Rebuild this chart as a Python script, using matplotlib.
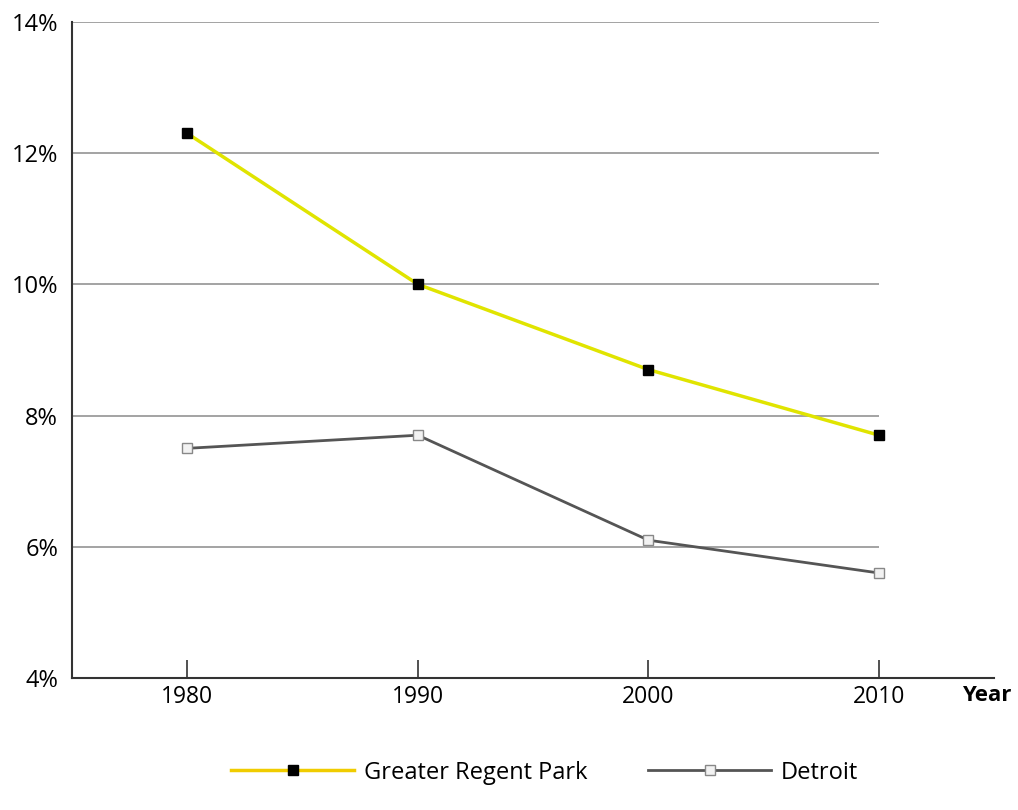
import matplotlib.pyplot as plt
from matplotlib.lines import Line2D

plt.rcParams['font.family'] = ['Open Sans', 'DejaVu Sans']

# data
years = [1980, 1990, 2000, 2010]
regent_park = [12.3, 10.0, 8.7, 7.7]
detroit = [7.5, 7.7, 6.1, 5.6]
y_ticks = [4, 6, 8, 10, 12, 14]
y_labels = ['4%', '6%', '8%', '10%', '12%', '14%']

fig = plt.figure(figsize=(10.18, 8.10), dpi=100)
ax = fig.add_axes([0.0707, 0.163, 0.906, 0.810])

# gridlines stop at the last year
ax.hlines(y_ticks[1:], 1975, 2010, colors='#8a8a8a', linewidth=1.1, zorder=1)

ax.plot(years, regent_park, color='#e0e400', linewidth=2.5, marker='s',
        markersize=7, markerfacecolor='black', markeredgecolor='black', zorder=3)
ax.plot(years, detroit, color='#555555', linewidth=2, marker='s',
        markersize=7, markerfacecolor='#f2f2f2', markeredgecolor='#888888', zorder=3)

ax.set_xlim(1975, 2015)
ax.set_ylim(4, 14)
ax.set_xticks(years)
ax.set_xticklabels([str(y) for y in years], fontsize=16.5)
ax.set_yticks(y_ticks)
ax.set_yticklabels(y_labels, fontsize=17)
ax.tick_params(axis='x', direction='in', length=13, width=1.2, color='#333333', pad=5)
ax.tick_params(axis='y', length=0, pad=10)

for s in ['top', 'right']:
    ax.spines[s].set_visible(False)
ax.spines['left'].set_color('#333333')
ax.spines['bottom'].set_color('#333333')
ax.spines['left'].set_linewidth(1.5)
ax.spines['bottom'].set_linewidth(1.5)

# axis title sits at the right end of the x axis, level with tick labels
ax.annotate('Year', xy=(1, 0), xycoords='axes fraction', xytext=(12, -5),
            textcoords='offset points', fontsize=16, fontweight='bold',
            ha='right', va='top')

handles = [
    Line2D([], [], color='#f0cc00', linewidth=2.5, marker='s', markersize=7,
           markerfacecolor='black', markeredgecolor='black'),
    Line2D([], [], color='#555555', linewidth=2, marker='s', markersize=7,
           markerfacecolor='#f2f2f2', markeredgecolor='#888888'),
]
fig.legend(handles, ['Greater Regent Park', 'Detroit'], loc='center',
           bbox_to_anchor=(0.535, 0.046), ncol=2, frameon=False, fontsize=17,
           handlelength=5.2, columnspacing=2.6, handletextpad=0.4)

fig.savefig('out.png', dpi=100)
